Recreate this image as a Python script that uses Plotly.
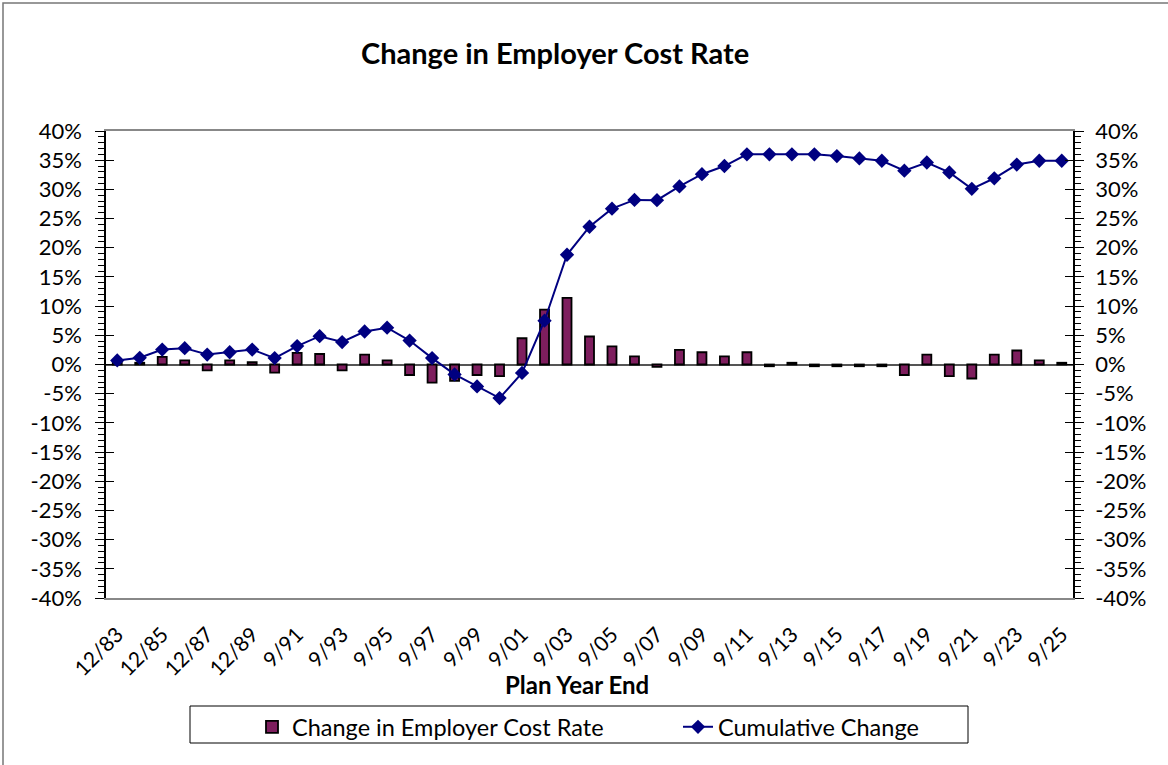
import plotly.graph_objects as go

categories = ["12/83", "12/84", "12/85", "12/86", "12/87", "12/88", "12/89", "12/90",
              "9/91", "9/92", "9/93", "9/94", "9/95", "9/96", "9/97", "9/98", "9/99",
              "9/00", "9/01", "9/02", "9/03", "9/04", "9/05", "9/06", "9/07", "9/08",
              "9/09", "9/10", "9/11", "9/12", "9/13", "9/14", "9/15", "9/16", "9/17",
              "9/18", "9/19", "9/20", "9/21", "9/22", "9/23", "9/24", "9/25"]

change_rate = [0.7, 0.3, 1.3, 0.7, -1.0, 0.7, 0.4, -1.4, 2.0, 1.8, -1.0, 1.7, 0.7,
               -1.8, -3.1, -2.8, -1.8, -2.0, 4.5, 9.4, 11.4, 4.8, 3.1, 1.4, -0.4,
               2.5, 2.1, 1.4, 2.1, -0.3, 0.3, -0.3, -0.3, -0.3, -0.3, -1.8, 1.7,
               -2.0, -2.4, 1.7, 2.4, 0.7, 0.3]

cumulative = [0.7, 1.15, 2.55, 2.8, 1.7, 2.1, 2.55, 1.1, 3.15, 4.85, 3.85, 5.65, 6.3,
              4.1, 1.1, -1.7, -3.75, -5.75, -1.45, 7.5, 18.8, 23.6, 26.7, 28.2, 28.15,
              30.5, 32.6, 34.0, 36.0, 36.0, 36.0, 36.0, 35.7, 35.3, 34.9, 33.2, 34.6,
              32.9, 30.1, 31.9, 34.25, 34.9, 34.9]

x_tick_labels = categories[::2]
y_tick_values = [-40, -35, -30, -25, -20, -15, -10, -5, 0, 5, 10, 15, 20, 25, 30, 35, 40]
y_tick_labels = [f"{v}%" for v in y_tick_values]

FONT = "Lato"
BAR_COLOR = "#7E1E5E"
LINE_COLOR = "#000080"

# plot area in pixels
L, R, T, B = 106, 1073, 131, 598
PW, PH = R - L, B - T


def px(x):
    return (x - L) / PW


def py(y):
    return (B - y) / PH


fig = go.Figure()
fig.add_trace(go.Bar(
    x=categories, y=change_rate, name="Change in Employer Cost Rate",
    marker=dict(color=BAR_COLOR, line=dict(color="black", width=1.8)),
    width=0.4,
))
fig.add_trace(go.Scatter(
    x=categories, y=cumulative, name="Cumulative Change", mode="lines+markers",
    line=dict(color=LINE_COLOR, width=2),
    marker=dict(symbol="diamond", size=11, color=LINE_COLOR),
))

yrange = [-40, 40]
tickfont = dict(family=FONT, size=22, color="black")

fig.update_layout(
    width=1168, height=765,
    margin=dict(l=L, r=1168 - R, t=T, b=765 - B),
    paper_bgcolor="white", plot_bgcolor="white",
    font=dict(family=FONT, color="black"),
    showlegend=True,
    legend=dict(
        orientation="h", x=px(252), xanchor="left", y=py(705), yanchor="top",
        borderwidth=0, bgcolor="rgba(0,0,0,0)",
        font=dict(family=FONT, size=23.5, color="black"),
        entrywidth=381, entrywidthmode="pixels",
        traceorder="normal",
    ),
    xaxis=dict(
        type="category", tickmode="array", tickvals=x_tick_labels, ticktext=x_tick_labels,
        range=[-0.5, len(categories) - 0.5], autorange=False,
        tickangle=-45, tickfont=dict(family=FONT, size=21, color="black"),
        ticklabelstandoff=14,
        showline=True, linecolor="#888888", linewidth=2, mirror=True,
        ticks="", showgrid=False, zeroline=False,
    ),
    yaxis=dict(
        range=yrange, tickmode="array", tickvals=y_tick_values, ticktext=y_tick_labels,
        tickfont=tickfont, ticks="outside", ticklen=9, tickwidth=1, tickcolor="black",
        minor=dict(ticks="outside", ticklen=6, dtick=1, tick0=0, tickcolor="black", tickwidth=1, showgrid=False),
        showline=True, linecolor="black", linewidth=1.5,
        showgrid=False, zeroline=True, zerolinecolor="#555555", zerolinewidth=1.5,
        ticklabelstandoff=9,
    ),
    yaxis2=dict(
        range=yrange, overlaying="y", side="right", anchor="x",
        tickmode="array", tickvals=y_tick_values, ticktext=y_tick_labels,
        tickfont=tickfont, ticks="outside", ticklen=9, tickwidth=1, tickcolor="black",
        minor=dict(ticks="outside", ticklen=6, dtick=1, tick0=0, tickcolor="black", tickwidth=1, showgrid=False),
        showline=True, linecolor="black", linewidth=1.5,
        showgrid=False, zeroline=False, ticklabelstandoff=7,
    ),
    yaxis3=dict(
        range=yrange, overlaying="y", side="left", anchor="x",
        tickmode="array", tickvals=y_tick_values, showticklabels=False,
        ticks="inside", ticklen=8, tickwidth=1, tickcolor="black",
        showline=False, showgrid=False, zeroline=False,
    ),
    yaxis4=dict(
        range=yrange, overlaying="y", side="right", anchor="x",
        tickmode="array", tickvals=y_tick_values, showticklabels=False,
        ticks="inside", ticklen=8, tickwidth=1, tickcolor="black",
        showline=False, showgrid=False, zeroline=False,
    ),
    annotations=[
        dict(text="<b>Change in Employer Cost Rate</b>", xref="paper", yref="paper",
             x=px(555), y=py(52), xanchor="center", yanchor="middle",
             showarrow=False, font=dict(family=FONT, size=29, color="black")),
        dict(text="<b>Plan Year End</b>", xref="paper", yref="paper",
             x=px(577), y=py(684), xanchor="center", yanchor="middle",
             showarrow=False, font=dict(family=FONT, size=24, color="black")),
    ],
    shapes=[
        dict(type="rect", xref="paper", yref="paper",
             x0=px(3), x1=1.3, y0=-0.5, y1=py(3),
             line=dict(color="#777777", width=1.5), fillcolor="rgba(0,0,0,0)", layer="below"),
        dict(type="rect", xref="paper", yref="paper",
             x0=px(190), x1=px(968), y0=py(743), y1=py(706),
             line=dict(color="black", width=1), fillcolor="rgba(0,0,0,0)", layer="below"),
    ],
)

# invisible traces to activate the extra tick axes
for ax in ["y2", "y3", "y4"]:
    fig.add_trace(go.Scatter(x=[categories[0]], y=[0], yaxis=ax, showlegend=False,
                             mode="markers", marker=dict(opacity=0), hoverinfo="skip"))

fig.write_html("out.html")
